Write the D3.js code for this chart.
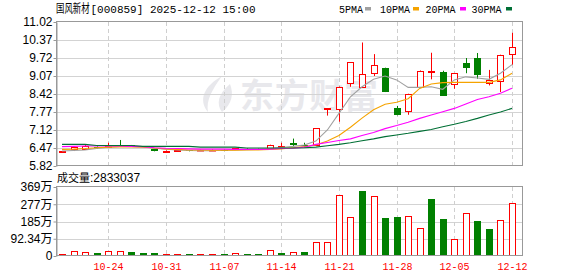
<!DOCTYPE html>
<html>
<head>
<meta charset="utf-8">
<script src="https://cdn.jsdelivr.net/npm/d3@7"></script>
<style>
  body { margin: 0; background: #fff; }
  svg { display: block; }
</style>
</head>
<body>
<svg id="chart" width="578" height="276"></svg>
<script>
// daily K-line data, 2025-10-20 .. 2025-12-12
const dates = ['10-20', '10-21', '10-22', '10-23', '10-24', '10-27', '10-28', '10-29', '10-30', '10-31',
  '11-03', '11-04', '11-05', '11-06', '11-07', '11-10', '11-11', '11-12', '11-13', '11-14',
  '11-17', '11-18', '11-19', '11-20', '11-21', '11-24', '11-25', '11-26', '11-27', '11-28',
  '12-01', '12-02', '12-03', '12-04', '12-05', '12-08', '12-09', '12-10', '12-11', '12-12']
const open = [6.34, 6.45, 6.45, 6.52, 6.50, 6.58, 6.57, 6.53, 6.43, 6.34,
  6.37, 6.38, 6.38, 6.40, 6.41, 6.43, 6.45, 6.44, 6.48, 6.54,
  6.66, 6.58, 6.57, 7.88, 7.87, 8.81, 8.68, 9.19, 9.36, 7.91,
  7.82, 8.68, 9.22, 9.21, 8.78, 9.54, 9.72, 8.81, 8.88, 9.85]
const close = [6.35, 6.52, 6.53, 6.49, 6.53, 6.54, 6.53, 6.52, 6.36, 6.37,
  6.39, 6.37, 6.40, 6.41, 6.40, 6.46, 6.44, 6.43, 6.58, 6.56,
  6.59, 6.57, 7.18, 7.90, 8.69, 9.56, 9.14, 9.47, 8.50, 7.65,
  8.42, 9.26, 9.25, 8.36, 9.17, 9.37, 9.12, 8.93, 9.83, 10.12]
const high = [6.36, 6.53, 6.59, 6.53, 6.66, 6.76, 6.58, 6.54, 6.44, 6.38,
  6.40, 6.39, 6.41, 6.42, 6.42, 6.47, 6.46, 6.45, 6.59, 6.66,
  6.81, 6.66, 7.19, 7.91, 8.69, 9.57, 10.28, 9.86, 9.37, 7.99,
  8.43, 9.27, 9.91, 9.26, 9.18, 9.72, 9.90, 9.29, 9.84, 10.63]
const low = [6.30, 6.36, 6.44, 6.45, 6.49, 6.52, 6.52, 6.51, 6.35, 6.32,
  6.36, 6.35, 6.37, 6.39, 6.39, 6.42, 6.43, 6.42, 6.47, 6.53,
  6.54, 6.50, 6.55, 7.64, 7.42, 8.68, 8.66, 9.07, 8.49, 7.65,
  7.67, 8.68, 8.95, 8.35, 8.61, 9.17, 8.97, 8.73, 8.49, 9.48]
// volume in 万
const volume = [10.7, 25, 23, 17.7, 25, 27, 23, 17.7, 17.7, 10.7,
  10.7, 10.7, 10.7, 10.7, 10.7, 17.7, 10.7, 10.7, 30, 17.7,
  21, 19.8, 73, 73, 325, 207, 348, 320, 203, 209,
  212, 148, 305, 198, 89, 228, 187, 144, 191, 283.3037]

// moving averages
const ma5 = [6.36, 6.38, 6.40, 6.45, 6.50, 6.53, 6.53, 6.52, 6.46, 6.43,
  6.40, 6.38, 6.37, 6.37, 6.39, 6.40, 6.41, 6.42, 6.45, 6.49,
  6.53, 6.58, 6.72, 7.12, 7.72, 8.32, 8.68, 8.95, 9.07, 8.93,
  8.66, 8.66, 8.68, 8.59, 8.93, 9.04, 9.00, 8.95, 9.17, 9.48]
const ma10 = [6.42, 6.43, 6.45, 6.48, 6.50, 6.51, 6.51, 6.50, 6.47, 6.44,
  6.42, 6.40, 6.40, 6.39, 6.39, 6.39, 6.40, 6.40, 6.42, 6.44,
  6.48, 6.52, 6.58, 6.72, 6.92, 7.22, 7.55, 7.85, 8.05, 8.12,
  8.25, 8.62, 8.78, 8.83, 8.84, 8.84, 8.84, 8.84, 8.93, 9.17]
const ma20 = [6.52, 6.53, 6.54, 6.54, 6.54, 6.54, 6.53, 6.52, 6.48, 6.46,
  6.45, 6.44, 6.43, 6.43, 6.43, 6.42, 6.42, 6.42, 6.43, 6.45,
  6.46, 6.50, 6.60, 6.67, 6.74, 6.80, 6.92, 7.03, 7.17, 7.28,
  7.40, 7.54, 7.66, 7.78, 7.90, 8.06, 8.22, 8.32, 8.45, 8.63]
const ma30 = [6.60, 6.60, 6.60, 6.56, 6.56, 6.56, 6.56, 6.53, 6.53, 6.53,
  6.53, 6.53, 6.50, 6.50, 6.50, 6.50, 6.47, 6.47, 6.47, 6.47,
  6.47, 6.48, 6.50, 6.55, 6.60, 6.66, 6.73, 6.80, 6.88, 6.94,
  7.00, 7.07, 7.14, 7.24, 7.33, 7.43, 7.54, 7.66, 7.77, 7.90]

const priceTicks = ['5.82', '6.47', '7.12', '7.77', '8.42', '9.07', '9.72', '10.37', '11.02']
const volTicks = [0, 92.34, 184.68, 277.02, 369.36]
const volTickLabels = ['0', '92.34万', '185万', '277万', '369万']
const xTickDates = ['10-24', '10-31', '11-07', '11-14', '11-21', '11-28', '12-05', '12-12']

const maList = [
  { name: '5PMA', values: ma5, color: '#a0a0a0' },
  { name: '10PMA', values: ma10, color: '#f5a300' },
  { name: '20PMA', values: ma20, color: '#ff00ff' },
  { name: '30PMA', values: ma30, color: '#006f35' }
]

const RED = '#ff0000'
const GREEN = '#008000'
const left = 56, right = 522
const svg = d3.select('#chart')

let x = d3.scaleLinear().domain([0, dates.length - 1]).range([62, 512])
let yP = d3.scaleLinear().domain([5.82, 11.02]).range([166, 22])
let yV = d3.scaleLinear().domain([0, 369.36]).range([256, 187])
let px = (i) => Math.round(x(i)) + 0.5

// title (CJK part squeezed horizontally like the original bitmap font)
svg.append('text')
  .attr('transform', 'translate(56,13) scale(0.7,1)')
  .style('font', '12px "Noto Sans CJK SC", sans-serif')
  .text('国风新材')
svg.append('text')
  .attr('x', 90.5).attr('y', 13)
  .style('font', '11px "Liberation Mono", monospace')
  .text('[000859] 2025-12-12 15:00')

// legend
let legendX = [339, 380, 425.5, 471.5]
let legendBox = [365, 413, 460, 506]
maList.forEach((m, k) => {
  svg.append('text')
    .attr('x', legendX[k]).attr('y', 12.5)
    .style('font', '10px "Liberation Mono", monospace')
    .text(m.name)
  svg.append('rect')
    .attr('x', legendBox[k]).attr('y', 7)
    .attr('width', 6).attr('height', 3.5)
    .attr('fill', m.color)
})

// watermark
let wm = svg.append('g').attr('fill', '#e8e8ec')
wm.append('path')
  .attr('d', 'M222,76 C204,86 198,100 208,112 C206,100 212,90 222,76 Z M230,84 C218,94 216,104 222,112 C232,104 234,94 230,84 Z')
wm.append('text')
  .attr('x', 240).attr('y', 108)
  .attr('textLength', 138)
  .style('font', 'bold 34px "Noto Sans CJK SC", sans-serif')
  .text('东方财富')

// horizontal grid
svg.append('g')
  .selectAll('line')
  .data(priceTicks.slice(1, -1))
  .enter()
  .append('line')
  .attr('x1', left).attr('x2', right)
  .attr('y1', (d) => Math.round(yP(+d)) + 0.5)
  .attr('y2', (d) => Math.round(yP(+d)) + 0.5)
  .attr('stroke', '#d3d3d3')
svg.append('g')
  .selectAll('line')
  .data(volTicks.slice(1, -1))
  .enter()
  .append('line')
  .attr('x1', left).attr('x2', right)
  .attr('y1', (d) => Math.round(yV(d)) + 0.5)
  .attr('y2', (d) => Math.round(yV(d)) + 0.5)
  .attr('stroke', '#d3d3d3')

// vertical dashed grid (both panels)
let tickIdx = xTickDates.map((d) => dates.indexOf(d))
;[[22, 166], [187, 256]].forEach((r) => {
  svg.append('g')
    .selectAll('line')
    .data(tickIdx)
    .enter()
    .append('line')
    .attr('x1', (d) => px(d)).attr('x2', (d) => px(d))
    .attr('y1', r[0]).attr('y2', r[1])
    .attr('stroke', '#cfcfcf')
    .style('stroke-dasharray', '4, 3')
})

// candles
let candles = svg.append('g')
dates.forEach((d, i) => {
  let up = close[i] >= open[i]
  let col = up ? RED : GREEN
  let cx = px(i)
  let top = Math.round(yP(Math.max(open[i], close[i])))
  let bot = Math.round(yP(Math.min(open[i], close[i])))
  let hi = yP(high[i]), lo = yP(low[i])
  if (up) {
    candles.append('line').attr('x1', cx).attr('x2', cx).attr('y1', hi).attr('y2', top + 0.5).attr('stroke', col)
    candles.append('line').attr('x1', cx).attr('x2', cx).attr('y1', bot + 0.5).attr('y2', lo).attr('stroke', col)
    candles.append('rect')
      .attr('x', cx - 3).attr('y', top + 0.5)
      .attr('width', 6).attr('height', Math.max(bot - top, 0.5))
      .attr('fill', '#fff').attr('stroke', col)
  } else {
    candles.append('line').attr('x1', cx).attr('x2', cx).attr('y1', hi).attr('y2', lo).attr('stroke', col)
    candles.append('rect')
      .attr('x', cx - 3.5).attr('y', top)
      .attr('width', 7).attr('height', Math.max(bot - top, 1))
      .attr('fill', col)
  }
})

// moving average lines
maList.forEach((m) => {
  svg.append('path')
    .datum(m.values)
    .attr('d', d3.line().x((d, i) => x(i)).y((d) => yP(d)))
    .attr('fill', 'none')
    .attr('stroke', m.color)
    .style('stroke-width', 1.1)
})

// volume bars, coloured by change against previous close
let vols = svg.append('g')
volume.forEach((v, i) => {
  let up = i == 0 ? close[i] >= open[i] : close[i] >= close[i - 1]
  let cx = px(i)
  let yTop = Math.round(yV(v))
  if (up) {
    vols.append('rect')
      .attr('x', cx - 3).attr('y', yTop + 0.5)
      .attr('width', 6).attr('height', Math.max(255 - yTop, 1))
      .attr('fill', '#fff').attr('stroke', RED)
  } else {
    vols.append('rect')
      .attr('x', cx - 3.5).attr('y', yTop)
      .attr('width', 7).attr('height', 256 - yTop)
      .attr('fill', GREEN)
  }
})

// frames
svg.append('rect').attr('x', left + 0.5).attr('y', 21.5).attr('width', right - left).attr('height', 144)
  .attr('fill', 'none').attr('stroke', '#999')
svg.append('rect').attr('x', left + 0.5).attr('y', 186.5).attr('width', right - left).attr('height', 69)
  .attr('fill', 'none').attr('stroke', '#999')

// y axes
let yAxis = d3.axisLeft(yP).tickValues(priceTicks.map(Number)).tickFormat((d, i) => priceTicks[i])
  .tickSize(3).tickSizeOuter(0).tickPadding(1)
let gy = svg.append('g').attr('transform', `translate(${left + 0.5},0)`).call(yAxis)
let vAxis = d3.axisLeft(yV).tickValues(volTicks).tickFormat((d, i) => volTickLabels[i])
  .tickSize(3).tickSizeOuter(0).tickPadding(1)
let gv = svg.append('g').attr('transform', `translate(${left + 0.5},0)`).call(vAxis)
;[gy, gv].forEach((g) => {
  g.select('.domain').attr('stroke', '#999')
  g.selectAll('.tick line').attr('stroke', '#999')
  g.selectAll('.tick text')
    .attr('fill', '#000')
    .style('font', '12px "Liberation Sans", Arial, "Noto Sans CJK SC", sans-serif')
})

// volume caption
let cap = svg.append('text').attr('x', 57).attr('y', 182)
  .style('font', '12px "Liberation Sans", Arial, sans-serif')
cap.append('tspan').style('font-family', '"Noto Sans CJK SC", sans-serif').style('font-size', '11px').text('成交量')
cap.append('tspan').text(':2833037')

// date labels
svg.append('g')
  .selectAll('text')
  .data(tickIdx)
  .enter()
  .append('text')
  .attr('x', (d) => px(d))
  .attr('y', 270)
  .attr('text-anchor', 'middle')
  .attr('fill', RED)
  .style('font', '10px "Liberation Mono", monospace')
  .text((d) => dates[d])
</script>
</body>
</html>
